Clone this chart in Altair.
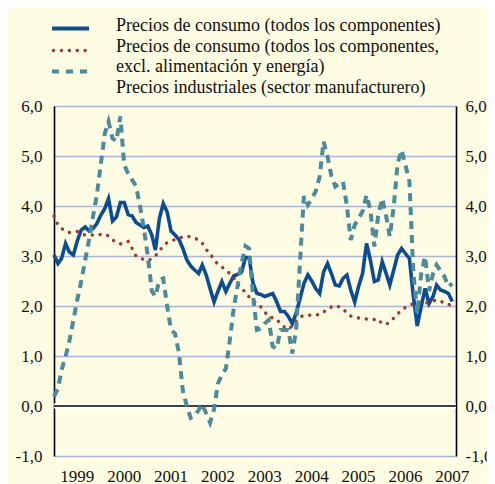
import altair as alt
import pandas as pd

# Monthly data, Jan 1999 .. Jul 2007 (annual % change)
start_year = 1999
headline = [3.02, 2.85, 2.95, 3.25, 3.08, 3.02, 3.30, 3.52, 3.58, 3.50, 3.55, 3.65,
            3.82, 3.95, 4.15, 3.70, 3.78, 4.07, 4.07, 3.83, 3.80, 3.67, 3.62, 3.57,
            3.60, 3.42, 3.12, 3.75, 4.05, 3.88, 3.50, 3.42, 3.33, 3.15, 2.92, 2.80,
            2.72, 2.65, 2.82, 2.62, 2.35, 2.08, 2.29, 2.49, 2.29, 2.45, 2.60, 2.63,
            2.68, 2.97, 2.97, 2.45, 2.25, 2.23, 2.19, 2.22, 2.25, 2.09, 1.89, 1.89,
            1.79, 1.65, 1.85, 2.15, 2.45, 2.62, 2.50, 2.35, 2.25, 2.68, 2.85, 2.65,
            2.42, 2.40, 2.55, 2.62, 2.32, 2.08, 2.39, 2.65, 3.25, 2.92, 2.49, 2.52,
            2.89, 2.65, 2.42, 2.72, 3.02, 3.15, 3.05, 2.95, 2.19, 1.60, 1.99, 2.35,
            2.05, 2.19, 2.42, 2.32, 2.29, 2.25, 2.09]
core = [3.80, 3.62, 3.55, 3.50, 3.47, 3.48, 3.49, 3.44, 3.42, 3.42, 3.42, 3.42,
        3.43, 3.44, 3.40, 3.32, 3.28, 3.24, 3.27, 3.29, 3.15, 3.00, 2.96, 2.93,
        2.91, 2.94, 3.00, 3.10, 3.20, 3.27, 3.30, 3.33, 3.36, 3.38, 3.40, 3.38,
        3.36, 3.32, 3.26, 3.13, 3.05, 2.92, 2.84, 2.78, 2.72, 2.65, 2.57, 2.45,
        2.34, 2.28, 2.18, 2.10, 2.05, 1.98, 1.88, 1.79, 1.76, 1.74, 1.64, 1.58,
        1.54, 1.60, 1.70, 1.78, 1.81, 1.82, 1.81, 1.82, 1.83, 1.88, 1.94, 1.98,
        2.01, 1.98, 1.95, 1.86, 1.80, 1.77, 1.76, 1.75, 1.74, 1.73, 1.73, 1.74,
        1.64, 1.64, 1.67, 1.76, 1.84, 1.92, 1.97, 2.01, 2.05, 2.07, 2.04, 2.05,
        2.08, 2.10, 2.12, 2.10, 2.05, 2.03, 2.01]
industrial = [0.19, 0.35, 0.72, 0.99, 1.30, 1.72, 2.12, 2.49, 2.92, 3.32, 3.79, 4.22,
              4.85, 5.45, 5.69, 5.35, 5.30, 5.79, 4.82, 4.65, 4.52, 4.40, 4.00, 3.55,
              3.00, 2.30, 2.19, 2.52, 2.55, 1.99, 1.52, 1.45, 1.05, 0.30, 0.00, -0.24,
              -0.20, -0.08, 0.04, -0.15, -0.33, -0.06, 0.45, 0.62, 0.75, 1.30, 1.95, 2.40,
              2.85, 3.20, 3.15, 2.20, 1.52, 1.55, 1.65, 1.72, 1.19, 1.15, 1.52, 1.52,
              1.52, 1.05, 1.52, 2.90, 4.20, 4.02, 4.15, 4.29, 4.59, 5.29, 4.99, 4.60,
              4.39, 4.45, 4.49, 4.00, 3.32, 3.62, 3.75, 3.89, 4.22, 3.92, 3.19, 3.82,
              4.15, 3.79, 3.39, 3.99, 4.85, 5.12, 4.82, 4.49, 2.65, 1.85, 2.65, 2.99,
              2.30, 2.65, 2.82, 2.70, 2.59, 2.39, 2.45]
years = ["1999", "2000", "2001", "2002", "2003", "2004", "2005", "2006", "2007"]
y_ticks = [-1, 0, 1, 2, 3, 4, 5, 6]
legend_lines = ["Precios de consumo (todos los componentes)",
                "Precios de consumo (todos los componentes,",
                "excl. alimentación y energía)",
                "Precios industriales (sector manufacturero)"]

dates = pd.date_range(f"{start_year}-01-01", periods=len(headline), freq="MS").strftime("%Y-%m-%d")
df = pd.DataFrame({"date": dates, "headline": headline, "core": core, "industrial": industrial})
year_df = pd.DataFrame({"year": years, "mid": [f"{y}-07-01" for y in years]})

BG = "#FEFCE3"
BLUE = "#0A4C96"
RED = "#B0302B"
TEAL = "#4A8B9C"
FONT = "Liberation Serif"

W, H = 402, 350
xscale = alt.Scale(type="utc",
                   domain=[alt.DateTime(year=1999, month=1, date=1, utc=True),
                           alt.DateTime(year=2007, month=7, date=30, utc=True)])
yscale = alt.Scale(domain=[-1, 6], nice=False, zero=False)
lab = "datum.value < 0 ? '-' + replace(format(abs(datum.value), '.1f'), '.', ',') : replace(format(datum.value, '.1f'), '.', ',')"

xaxis = alt.Axis(values=[alt.DateTime(year=int(y), month=1, date=1, utc=True) for y in years],
                 labels=False, title=None, grid=True, gridColor="#B3B9D8", gridWidth=1.6,
                 ticks=True, tickSize=5, tickColor="#333333", tickWidth=1.5,
                 domain=True, domainColor="#222222", domainWidth=1.8)
yaxis_l = alt.Axis(values=y_ticks, labelExpr=lab, title=None, grid=True, gridColor="#AAB5E0",
                   gridWidth=1.4, ticks=False, labelPadding=12, domain=True, domainColor="#000000",
                   domainWidth=1.6, labelFont=FONT, labelFontSize=17, labelColor="#111111")
yaxis_r = alt.Axis(values=y_ticks, labelExpr=lab, title=None, grid=False, orient="right",
                   ticks=False, labelPadding=9, domain=True, domainColor="#000000",
                   domainWidth=1.6, labelFont=FONT, labelFontSize=17, labelColor="#111111")

base = alt.Chart(df)

blue = base.mark_line(color=BLUE, strokeWidth=3.6, strokeJoin="miter").encode(
    x=alt.X("date:T", scale=xscale, axis=xaxis),
    y=alt.Y("headline:Q", scale=yscale, axis=yaxis_l))

right_axis = base.mark_line(opacity=0).encode(
    x=alt.X("date:T", scale=xscale, axis=None),
    y=alt.Y("headline:Q", scale=yscale, axis=yaxis_r))

zero_halo = alt.Chart(pd.DataFrame({"v": [0]})).mark_rule(color="#FFFFFF", strokeWidth=5).encode(
    y=alt.Y("v:Q", scale=yscale, axis=None))
zero_line = alt.Chart(pd.DataFrame({"v": [0]})).mark_rule(color="#000000", strokeWidth=1.6).encode(
    y=alt.Y("v:Q", scale=yscale, axis=None))

red = base.mark_line(color=RED, strokeWidth=3.4, strokeCap="round", strokeDash=[0.1, 7.8]).encode(
    x=alt.X("date:T", scale=xscale, axis=None),
    y=alt.Y("core:Q", scale=yscale, axis=None))

teal = base.mark_line(color=TEAL, strokeWidth=4, strokeDash=[8, 6]).encode(
    x=alt.X("date:T", scale=xscale, axis=None),
    y=alt.Y("industrial:Q", scale=yscale, axis=None))

year_text = alt.Chart(year_df).mark_text(font=FONT, fontSize=17, color="#111111",
                                         baseline="alphabetic", align="center").encode(
    x=alt.X("mid:T", scale=xscale, axis=None),
    y=alt.value(376),
    text="year:N")

one = pd.DataFrame({"a": [0]})
leg_solid = alt.Chart(one).mark_rule(color=BLUE, strokeWidth=4).encode(
    x=alt.value(-2), x2=alt.value(35), y=alt.value(-77.5))
leg_dot = alt.Chart(one).mark_rule(color=RED, strokeWidth=3.4, strokeCap="round",
                                   strokeDash=[0.1, 7.8]).encode(
    x=alt.value(-0.5), x2=alt.value(33), y=alt.value(-55.5))
leg_dash = alt.Chart(one).mark_rule(color=TEAL, strokeWidth=4, strokeDash=[7, 7]).encode(
    x=alt.value(-2), x2=alt.value(35), y=alt.value(-34.5))

leg_texts = []
for i, t in enumerate(legend_lines):
    leg_texts.append(alt.Chart(pd.DataFrame({"t": [t]})).mark_text(
        font=FONT, fontSize=18, color="#111111", align="left", baseline="alphabetic").encode(
        x=alt.value(62), y=alt.value(-75 + 20.6 * i), text="t:N"))

chart = alt.layer(blue, right_axis, zero_halo, zero_line, red, teal, year_text,
                  leg_solid, leg_dot, leg_dash, *leg_texts).resolve_scale(
    y="shared").resolve_axis(y="independent").properties(
    width=W, height=H,
    autosize=alt.AutoSizeParams(type="none"),
    padding={"left": 46, "top": 98, "right": 31, "bottom": 28},
    background=BG
).configure_view(stroke=None, fill=BG)

chart.save("out.html", embed_options={"renderer": "svg", "actions": False})
